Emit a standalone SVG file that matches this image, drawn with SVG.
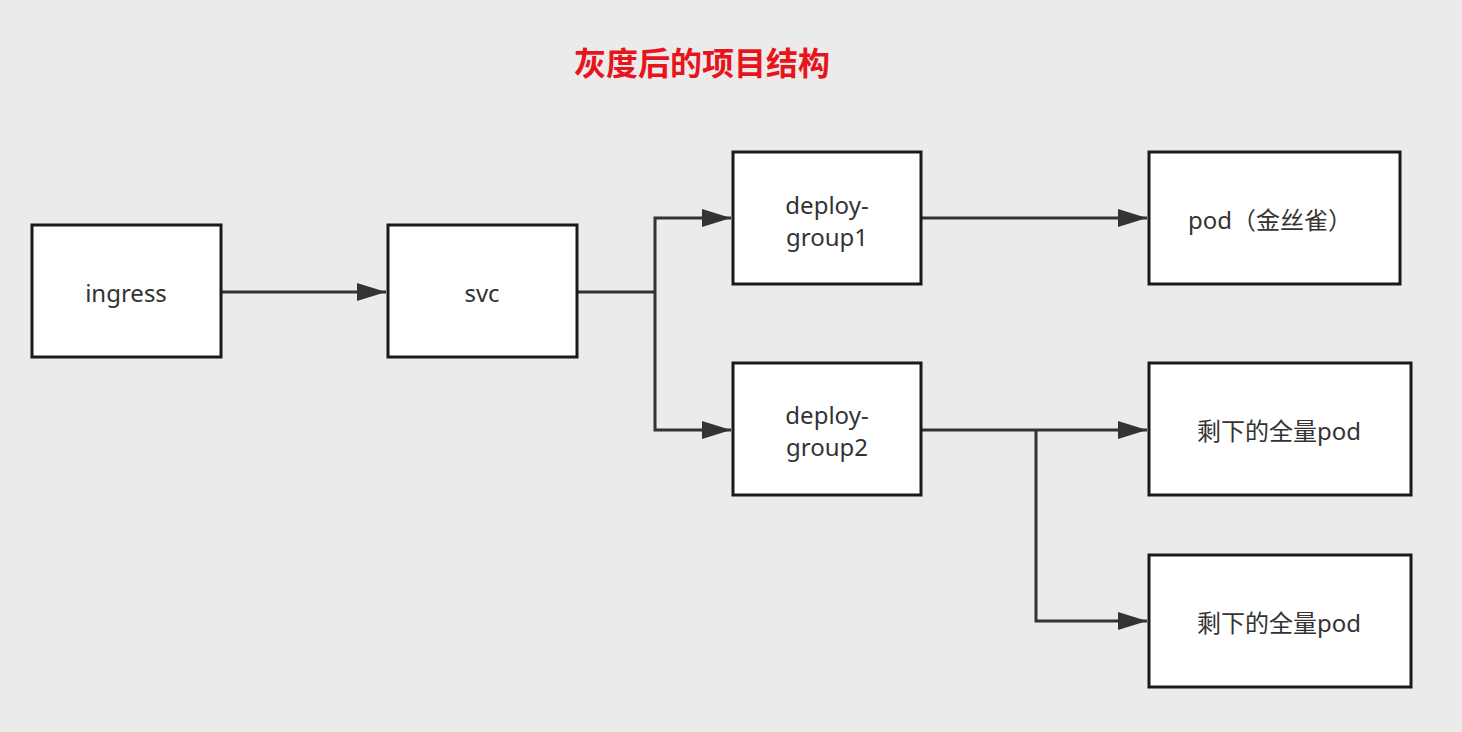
<svg xmlns="http://www.w3.org/2000/svg" width="1462" height="732" viewBox="0 0 1462 732">
<defs>
<style>
.box{fill:#fff;stroke:#1a1a1a;stroke-width:3}
.lbl{font-family:"Noto Sans","Noto Sans CJK SC",sans-serif;font-size:24px;fill:#333;text-anchor:middle;dominant-baseline:central}
.title{font-family:"Noto Sans CJK SC",sans-serif;font-size:32px;font-weight:bold;fill:#e8141c;text-anchor:middle;dominant-baseline:central}
.edge{fill:none;stroke:#333;stroke-width:3}
</style>
<marker id="arr" markerUnits="userSpaceOnUse" markerWidth="30" markerHeight="20" viewBox="0 0 30 20" refX="29" refY="10" orient="auto">
<path d="M0,1 L29,10 L0,19 Z" fill="#333"/>
</marker>
</defs>
<rect width="1462" height="732" fill="#ebebeb"/>
<text class="title" x="702" y="61">灰度后的项目结构</text>
<g id="connectors">
<path class="edge" d="M221,292 H386" marker-end="url(#arr)"/>
<path class="edge" d="M577,292 H655"/>
<path class="edge" d="M655,292 V218 H731" marker-end="url(#arr)"/>
<path class="edge" d="M655,292 V430 H731" marker-end="url(#arr)"/>
<path class="edge" d="M921,218 H1147" marker-end="url(#arr)"/>
<path class="edge" d="M921,430 H1147" marker-end="url(#arr)"/>
<path class="edge" d="M1036,430 V621 H1147" marker-end="url(#arr)"/>
</g>
<g id="ingress"><rect class="box" x="32" y="225" width="189" height="132"/><text class="lbl" x="126" y="292">ingress</text></g>
<g id="svc"><rect class="box" x="388" y="225" width="189" height="132"/><text class="lbl" x="482" y="292">svc</text></g>
<g id="dg1"><rect class="box" x="733" y="152" width="188" height="132"/><text class="lbl" x="827" y="204">deploy-</text><text class="lbl" x="827" y="236">group1</text></g>
<g id="dg2"><rect class="box" x="733" y="363" width="188" height="132"/><text class="lbl" x="827" y="414">deploy-</text><text class="lbl" x="827" y="446">group2</text></g>
<g id="canary"><rect class="box" x="1149" y="152" width="251" height="132"/><text class="lbl" x="1270" y="219">pod（金丝雀）</text></g>
<g id="full1"><rect class="box" x="1149" y="363" width="262" height="132"/><text class="lbl" x="1279" y="430">剩下的全量pod</text></g>
<g id="full2"><rect class="box" x="1149" y="555" width="262" height="132"/><text class="lbl" x="1279" y="622">剩下的全量pod</text></g>
</svg>
